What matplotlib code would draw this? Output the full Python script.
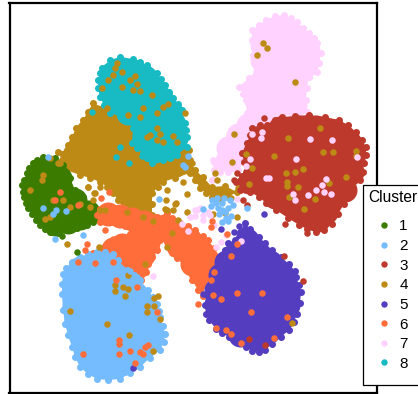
import matplotlib
matplotlib.use("Agg")
import matplotlib.pyplot as plt
from matplotlib.lines import Line2D

plt.rcParams['font.family'] = ['Liberation Sans', 'DejaVu Sans']

labels = ['1', '2', '3', '4', '5', '6', '7', '8']
colors = {'1': '#3B7C00', '2': '#75BCFF', '3': '#BD392B', '4': '#BE8A16',
          '5': '#553DC0', '6': '#FF6E3A', '7': '#FFD2FF', '8': '#18BAC4'}

# dense interior of each cluster
core_7 = [(270,32),(285,28),(296,38),(262,45),(278,45),(295,50),(308,50),(262,60),(278,60),(295,62),(306,65),
          (265,72),(280,75),(295,72),(258,85),(272,88),(288,88),(256,100),(270,102),(285,102),(295,105),
          (258,115),(272,115),(248,125),(262,122),(238,135),(250,135),(228,148),(242,148),(230,160)]
core_3 = [(262,138),(280,128),(298,127),(316,127),(334,131),(350,143),(255,152),(270,150),(288,145),(306,145),(324,145),(340,148),
          (353,158),(256,170),(272,165),(290,163),(308,163),(326,163),(342,165),(352,172),(250,182),(266,182),(284,181),(302,181),
          (320,181),(338,181),(345,190),(275,197),(292,197),(310,197),(328,197),(295,208),(312,212),(326,212),(318,220)]
core_4 = [(97,117),(88,131),(80,145),(73,157),(90,160),(105,130),(118,125),(100,145),(120,140),(138,140),(115,155),
          (135,155),(105,165),(125,170),(145,165),(160,168),(175,165),(118,178),(130,188),(140,195),(145,180),(175,165)]
core_8 = [(111,74),(122,69),(134,71),(145,77),(153,87),(161,98),(171,112),(174,124),(176,138),(168,148),(155,151),
          (110,88),(122,84),(136,86),(148,98),(116,101),(130,100),(141,111),(157,112),(128,113),(148,124),(161,125),(145,140),(158,138)]
core_1 = [(37,178),(50,168),(33,190),(46,185),(60,178),(36,201),(50,200),(64,195),(75,200),(45,213),(60,213),
          (75,212),(88,212),(55,224),(68,222),(80,218)]
core_6 = [(108,214),(120,216),(132,219),(144,222),(156,226),(145,232),(155,228),(137,240),(148,243),(130,250),(143,255),
          (130,262),(136,268),(170,228),(180,236),(190,240),(178,246),(188,252),(200,252),(192,264),(205,258),(200,272),(206,270),(113,249),(122,245)]
core_2 = [(80,268),(92,265),(105,265),(76,278),(90,278),(104,278),(118,280),(74,292),(88,292),(102,292),(116,292),(130,288),(138,296),
          (74,306),(88,306),(102,306),(116,306),(130,306),(145,306),(76,320),(90,320),(104,320),(118,320),(132,320),(148,320),
          (80,334),(94,334),(108,334),(122,334),(136,334),(152,334),(85,348),(100,348),(115,348),(130,348),(145,345),(93,362),(107,366),(122,364),(132,358)]
core_5 = [(247,240),(240,252),(255,252),(226,262),(240,265),(255,265),(270,262),(220,275),(235,280),(250,280),(265,278),(280,275),
          (216,290),(230,295),(245,295),(260,293),(275,290),(288,290),(216,304),(230,308),(245,308),(260,308),(275,305),(288,305),
          (225,322),(240,322),(255,322),(270,320),(282,318),(240,335),(255,338),(268,332)]

# outline of each cluster, in order around its hull
edge_7 = [(252,30),(259,25),(266,20),(275,16),(284,15),(291,18),(297,22),(303,28),(309,33),(314,38),(317,43),(321,53),(319,63),(317,72),(309,77),
          (307,88),(306,100),(307,112),(295,114),(281,117),(270,122),(259,127),(248,150),(238,170),(228,172),(220,172),(212,180),(214,170),(214,162),
          (221,147),(229,137),(239,127),(247,113),(246,100),(243,94),(239,87),(249,78),(257,70),(255,64),(253,55),(252,40)]
edge_3 = [(282,117),(295,116),(309,115),(325,117),(339,120),(348,125),(356,132),(362,140),(366,147),(366,155),(364,163),(363,172),(360,180),(352,190),
          (344,204),(338,214),(332,224),(324,230),(316,232),(307,229),(299,225),(288,218),(276,210),(266,203),(259,197),(250,192),(240,190),(236,182),
          (242,176),(246,172),(244,162),(242,153),(247,143),(250,135),(252,128),(260,125),(267,125),(275,120)]
edge_4 = [(93,103),(88,112),(83,120),(76,128),(72,137),(68,145),(67,150),(58,152),(62,160),(66,170),(80,175),(90,178),(100,182),(107,187),(113,193),
          (118,200),(123,208),(132,211),(140,213),(152,215),(152,204),(152,193),(158,187),(163,182),(175,178),(190,173),(195,180),(200,188),(206,193),
          (212,197),(220,198),(228,197),(237,192),(225,186),(212,187),(203,177),(195,170),(190,160),(189,150)]
edge_8 = [(98,80),(100,73),(102,68),(110,60),(120,57),(133,59),(140,62),(147,65),(157,73),(161,79),(165,85),(169,92),(173,98),(178,104),(182,110),
          (185,123),(186,130),(187,137),(187,147),(177,155),(170,158),(163,160),(152,163),(147,158),(143,153),(137,148),(132,143),(133,128),(123,117),
          (110,113),(104,105),(100,97),(98,88)]
edge_1 = [(43,157),(37,160),(33,163),(29,168),(27,173),(24,180),(22,185),(23,192),(24,197),(26,203),(28,208),(32,214),(36,220),(40,225),(45,229),
          (50,232),(58,233),(67,230),(77,228),(87,225),(93,222),(98,219),(97,212),(93,207),(88,205),(83,197),(75,190),(70,178),(63,165),(55,158)]
edge_6 = [(100,222),(97,215),(100,209),(107,208),(118,210),(128,211),(140,214),(150,216),(157,217),(167,213),(172,218),(180,223),(188,226),(195,230),(203,236),(208,240),
          (214,248),(220,257),(219,262),(212,268),(205,275),(205,285),(203,296),(198,290),(192,280),(186,268),(177,258),(172,249),(167,242),(163,238),(160,240),
          (157,250),(152,257),(148,264),(146,272),(141,280),(133,282),(125,275),(120,268),(117,258),(110,254),(102,252),(93,253),(100,248),(110,247),(117,243),
          (123,240),(130,234),(133,230),(125,226),(117,222),(108,222)]
edge_2 = [(63,274),(66,268),(72,262),(80,257),(88,254),(97,252),(105,252),(113,254),(118,260),(127,270),(134,275),(140,280),(148,290),(153,297),(157,304),
          (159,311),(160,317),(163,326),(165,334),(164,342),(160,350),(150,358),(140,367),(130,373),(120,379),(108,380),(97,379),(88,374),(80,367),(75,357),
          (72,347),(68,335),(65,324),(63,310),(62,294),(62,284)]
edge_5 = [(245,223),(250,229),(259,237),(265,243),(272,250),(281,257),(289,264),(295,271),(296,277),(299,285),(301,292),(300,303),(297,314),(294,322),
          (289,330),(281,337),(272,344),(265,350),(259,352),(252,351),(246,347),(237,342),(229,337),(222,333),(216,329),(209,320),(206,314),(205,305),
          (207,295),(212,285),(218,270),(225,250),(228,243),(235,240),(240,232)]

# isolated points lying over or beside the clusters
spots_4 = [(117,63),(113,75),(108,80),(122,72),(130,80),(135,76),(137,84),(133,90),(140,91),(122,87),(102,88),(152,95),(143,108),(107,108),(163,107),
           (168,104),(157,113),(140,117),(128,115),(147,137),(160,134),(157,128),(150,135),(173,136),(177,142),(163,142),(157,140),(115,68),(185,113),
           (50,158),(58,163),(187,170),(192,163),(183,182),(197,180),(203,187),(167,190),(95,193),(100,187),(88,187),(94,193),(88,187),(93,200),(105,210),
           (100,210),(166,200),(176,203),(165,209),(187,194),(187,212),(178,220),(153,221),(167,210),(175,204),(173,210),(127,212),(143,217),(172,233),(167,247),(99,247),(67,244),
           (42,180),(43,175),(60,163),(30,190),(50,217),(45,219),(53,200),(63,200),(70,207),(80,204),(90,207),
           (70,311),(107,324),(129,335),(115,285),(115,291),(123,287),(128,289),(125,296),(147,306),(154,306),(154,298),(158,296),(160,319),(147,312),
           (153,351),(128,275),(145,264),(263,43),(267,48),(257,55),(295,82),(234,134),(232,162),(215,173),(217,180),
           (320,128),(288,138),(323,152),(333,152),(356,151),(356,156),(274,156),(246,154),(252,168),(286,173),(295,172),(303,169),(287,182),(287,186),
           (298,187),(249,184),(238,188),(346,177),(329,183),(289,197),(304,209),(315,199),(292,323),(216,199),(213,214),(225,213),(237,217),(231,198)]
spots_8 = [(116,157),(129,163),(142,156),(120,147),(92,112)]
spots_7 = [(252,134),(262,132),(261,138),(310,139),(332,140),(357,157),(296,159),(250,159),(246,166),(269,178),(266,178),(326,179),(322,185),(316,190),
           (308,195),(331,194),(293,194),(324,192),(295,200),(188,231),(182,224),(153,276),(197,210),(190,217),(203,215),(216,247),(221,242),(241,241),
           (226,235),(237,199),(195,210),(200,208),(195,216),(203,220),(208,212),(214,225),(210,215),(216,165),(222,158),(213,160)]
spots_3 = [(285,224),(307,233),(284,256),(303,281),(249,339),(265,345),(237,173),(234,180),(240,180),(245,190),(243,200),(247,205),(240,190),(242,187),(264,118)]
spots_5 = [(264,214),(239,226),(221,229),(234,232),(133,368),(203,294),(209,290)]
spots_6 = [(231,256),(237,244),(214,272),(211,280),(213,295),(221,299),(237,293),(262,293),(251,312),(287,317),(216,328),(226,330),(231,334),(241,343),
           (274,338),(198,304),(119,340),(119,344),(130,351),(119,354),(83,354),(140,352),(145,347),(143,354),(148,345),(135,363),(157,312),(137,287),
           (78,262),(95,263),(113,262),(116,280),(105,230),(87,244),(85,250),(172,253),(113,239),(107,245),(109,192),(101,198),(60,192),(55,200),(78,205),
           (212,221),(211,227),(227,234)]
spots_2 = [(188,156),(183,165),(185,167),(48,157),(55,239),(83,235),(43,208),(56,210),(53,214),(66,211),(159,199),(203,209),(247,208),
           (122,269),(130,271),(137,277),(212,200),(217,198),(224,198),(230,200),(211,206),(216,203),(222,203),(228,208),(233,205),(218,208),(225,212),
           (219,214),(226,218),(231,216),(222,222),(228,221),(222,210)]
spots_1 = [(77,252),(62,236)]

core = {'7': core_7, '3': core_3, '4': core_4, '8': core_8, '1': core_1, '6': core_6, '2': core_2, '5': core_5}
edge = {'7': edge_7, '3': edge_3, '4': edge_4, '8': edge_8, '1': edge_1, '6': edge_6, '2': edge_2, '5': edge_5}
spots = [('4', spots_4), ('8', spots_8), ('7', spots_7), ('3', spots_3), ('5', spots_5), ('6', spots_6), ('2', spots_2), ('1', spots_1)]

W, H = 418, 394
fig = plt.figure(figsize=(W/100, H/100), dpi=100)
L, R, T, B = 9.5, 377, 3, 392.5
ax = fig.add_axes([L/W, 1-B/H, (R-L)/W, (B-T)/H])
ax.set_xlim(L, R)
ax.set_ylim(B, T)
ax.set_xticks([])
ax.set_yticks([])
for s in ax.spines.values():
    s.set_linewidth(1.6)
    s.set_color('black')

def area(d):
    return (d*0.72)**2

z = 2
for key in ['7', '3', '4', '8', '1', '6', '2', '5']:
    xs, ys = zip(*edge[key])
    ax.fill(xs, ys, color=colors[key], linewidth=0, zorder=z)
    ax.scatter(xs, ys, s=area(7), c=colors[key], linewidths=0, zorder=z)
    xs, ys = zip(*core[key])
    ax.scatter(xs, ys, s=area(24), c=colors[key], linewidths=0, zorder=z)
for key, pairs in spots:
    xs, ys = zip(*pairs)
    ax.scatter(xs, ys, s=area(6.5), c=colors[key], linewidths=0, zorder=3)

handles = [Line2D([], [], linestyle='none', marker='o', markersize=4.6, markeredgewidth=0,
                  color=colors[k]) for k in labels]
leg = ax.legend(handles, labels, title='Cluster', loc='upper left',
                bbox_to_anchor=(363/W, 1-184.5/H), bbox_transform=fig.transFigure,
                fontsize=11, title_fontsize=11.2, frameon=True, fancybox=False,
                framealpha=1, edgecolor='black', borderaxespad=0, borderpad=0.36,
                labelspacing=0.37, handletextpad=0.6, handlelength=0.85, alignment='left')
leg._legend_handle_box.pad = 6.2
leg.get_frame().set_linewidth(0.9)
leg.set_zorder(10)

fig.savefig('out.png', dpi=100)
